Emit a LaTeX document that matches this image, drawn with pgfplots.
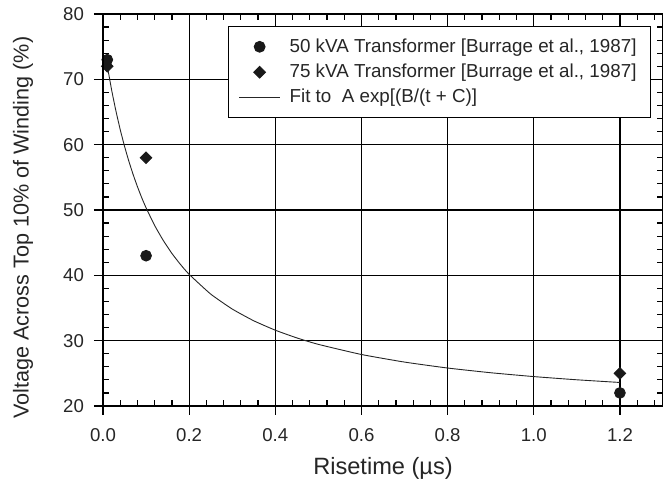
\documentclass[border=0pt]{standalone}
\usepackage{fontspec}
\setmainfont{Liberation Sans}
\usepackage{pgfplots}
\pgfplotsset{compat=1.18}
\begin{document}
\begin{tikzpicture}
\begin{axis}[
  name=main,
  scale only axis,
  width=280pt, height=196pt,
  xmin=0, xmax=1.3, ymin=20, ymax=80,
  xtick={0,0.2,0.4,0.6,0.8,1.0,1.2},
  ytick={20,30,40,50,60,70,80},
  minor xtick={0.04,0.08,0.12,0.16,0.24,0.28,0.32,0.36,0.44,0.48,0.52,0.56,0.64,0.68,0.72,0.76,0.84,0.88,0.92,0.96,1.04,1.08,1.12,1.16,1.24,1.28},
  minor ytick={22,24,26,28,32,34,36,38,42,44,46,48,52,54,56,58,62,64,66,68,72,74,76,78},
  tick align=inside,
  minor tick length=2.8pt,
  major tick length=2.8pt,
  grid=major,
  major grid style={black, line width=0.6pt},
  axis line style={black, line width=0.65pt},
  every tick/.style={black, line width=0.6pt},
  /pgf/number format/assume math mode=true,
  xticklabel style={/pgf/number format/fixed, /pgf/number format/fixed zerofill, /pgf/number format/precision=1},
  every tick label/.append style={font=\fontsize{9.3}{11}\selectfont, text=black!85},
  xticklabel style={yshift=-7.5pt},
  yticklabel style={xshift=-6pt},
  xlabel={Risetime (µs)},
  ylabel={Voltage Across Top 10\% of Winding (\%)},
  xlabel style={at={(axis description cs:0.5,-0.158)}, anchor=center, font=\fontsize{11.8}{13}\selectfont, text=black!85},
  ylabel style={at={(axis description cs:-0.143,0.455)}, anchor=center, font=\fontsize{10.8}{13}\selectfont, text=black!85},
  legend style={at={(axis description cs:0.9786,0.9694)}, anchor=north east,
    draw=black, line width=0.5pt, fill=white,
    inner xsep=5pt, inner ysep=4pt,
    font=\fontsize{9.4}{11}\selectfont, text=black!85,
    legend cell align=left, row sep=0.4pt,
    /tikz/every odd column/.style={column sep=2.5pt}},
  legend image code/.code={\draw[mark repeat=2,mark phase=2,#1] plot coordinates {(0pt,0pt) (10.25pt,0pt) (20.5pt,0pt)};},
]
\addplot[only marks, mark=*, mark size=2.7pt, black!90, fill=black!90]
  coordinates {(0.01,73) (0.1,43) (1.2,22)};
\addlegendentry{50 kVA Transformer [Burrage et al., 1987]}
\addplot[only marks, mark=square*, mark size=2.05pt, mark options={rotate=45}, black!90, fill=black!90]
  coordinates {(0.01,72) (0.1,58) (1.2,25)};
\addlegendentry{75 kVA Transformer [Burrage et al., 1987]}
\addplot[black!85, line width=0.45pt, mark=none, smooth, tension=0.3]
  coordinates {(0.01,72.05) (0.02,68.38) (0.03,65.16) (0.04,62.30) (0.05,59.75) (0.06,57.47) (0.07,55.42) (0.08,53.56) (0.09,51.87) (0.10,50.33) (0.12,47.62) (0.14,45.33) (0.16,43.35) (0.18,41.65) (0.20,40.15) (0.25,37.13) (0.30,34.84) (0.35,33.04) (0.40,31.60) (0.45,30.42) (0.50,29.43) (0.60,27.88) (0.70,26.72) (0.80,25.81) (0.90,25.09) (1.00,24.50) (1.10,24.01) (1.20,23.60)};
\addlegendentry{Fit to~ A exp[(B/(t + C)]}
\end{axis}
\begin{axis}[
  scale only axis,
  width=280pt, height=196pt,
  xmin=0, xmax=1.3, ymin=20, ymax=80,
  axis x line*=bottom, axis y line*=left,
  xtick={0,0.2,0.4,0.6,0.8,1.0,1.2},
  ytick={20,30,40,50,60,70,80},
  xticklabels={}, yticklabels={},
  minor tick num=0,
  tick align=outside,
  major tick length=4.5pt,
  axis line style={black, line width=0.65pt},
  every tick/.style={black, line width=0.6pt},
]
\end{axis}
\pgfresetboundingbox
\path[use as bounding box] ([xshift=-51.5pt,yshift=-38.5pt]main.south west) rectangle ([yshift=7pt]main.north east);
\end{tikzpicture}
\end{document}
